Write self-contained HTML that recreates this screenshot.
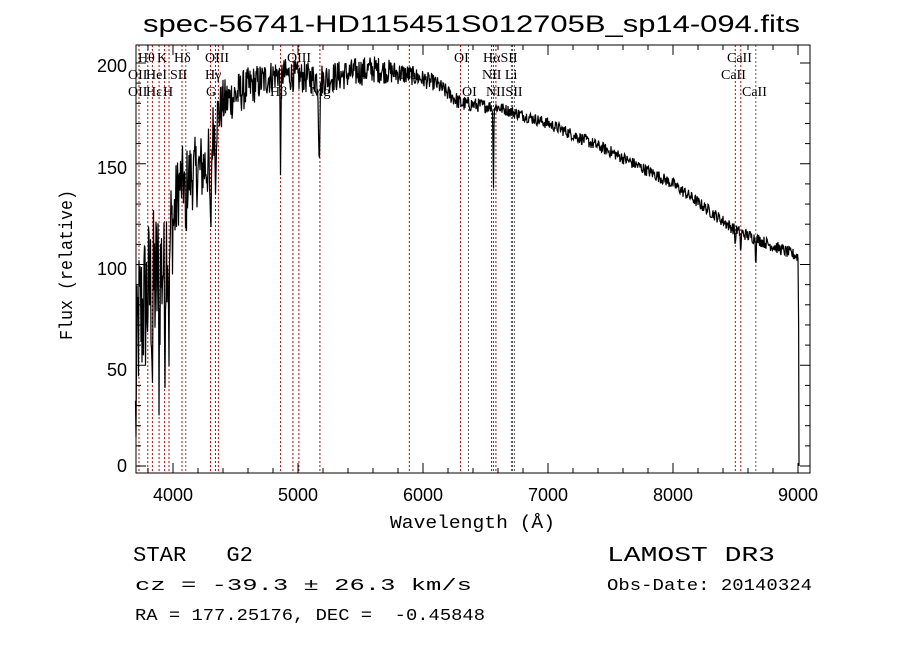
<!DOCTYPE html>
<html><head><meta charset="utf-8"><style>
html,body{margin:0;padding:0;background:#fff;}
svg{display:block;}
text{font-family:"Liberation Sans",sans-serif;fill:#000;white-space:pre;}
text.m{font-family:"Liberation Mono",monospace;}
.s text{font-family:"Liberation Serif",serif;font-size:14px;}
</style></head><body>
<svg id="c" width="900" height="649" viewBox="0 0 900 649" xmlns="http://www.w3.org/2000/svg" xml:space="preserve">
<rect width="900" height="649" fill="#fff"/>
<g id="lines"></g>
<polyline id="sp" fill="none" stroke="#000" stroke-width="1.2"/>
<rect x="136" y="45" width="674" height="428" fill="none" stroke="#000" stroke-width="1"/>
<g id="ticks" stroke="#000" stroke-width="1"></g>
<g font-size="18">
<text x="173" y="501" text-anchor="middle">4000</text>
<text x="298" y="501" text-anchor="middle">5000</text>
<text x="423" y="501" text-anchor="middle">6000</text>
<text x="548" y="501" text-anchor="middle">7000</text>
<text x="673" y="501" text-anchor="middle">8000</text>
<text x="798" y="501" text-anchor="middle">9000</text>
<text x="127" y="472" text-anchor="end">0</text>
<text x="127" y="376" text-anchor="end">50</text>
<text x="127" y="275" text-anchor="end">100</text>
<text x="127" y="174" text-anchor="end">150</text>
<text x="127" y="72" text-anchor="end">200</text>
</g>
<text class="m" x="390" y="528" font-size="18" textLength="165" lengthAdjust="spacingAndGlyphs">Wavelength (Å)</text>
<text class="m" x="72" y="340" font-size="18" transform="rotate(-90 72 340)" textLength="150" lengthAdjust="spacingAndGlyphs">Flux (relative)</text>
<text x="143" y="32" font-size="24" textLength="657" lengthAdjust="spacingAndGlyphs">spec-56741-HD115451S012705B_sp14-094.fits</text>
<text class="m" x="133" y="561" font-size="21" textLength="120" lengthAdjust="spacingAndGlyphs">STAR   G2</text>
<text class="m" x="607" y="561" font-size="21" textLength="168" lengthAdjust="spacingAndGlyphs">LAMOST DR3</text>
<text class="m" x="135" y="590" font-size="17" textLength="337" lengthAdjust="spacingAndGlyphs">cz = -39.3 ± 26.3 km/s</text>
<text class="m" x="607" y="590" font-size="17" textLength="205" lengthAdjust="spacingAndGlyphs">Obs-Date: 20140324</text>
<text class="m" x="135" y="620" font-size="17" textLength="350" lengthAdjust="spacingAndGlyphs">RA = 177.25176, DEC =  -0.45848</text>
<g class="s">
<text x="138" y="62">Hθ</text><text x="157" y="62">K</text><text x="174" y="62">Hδ</text><text x="205" y="62">OIII</text><text x="287" y="62">OIII</text>
<text x="128" y="79">OII</text><text x="146" y="79">HeI</text><text x="170" y="79">SII</text><text x="205" y="79">Hγ</text><text x="400" y="79">Na</text>
<text x="128" y="96">OII</text><text x="146" y="96">Hε</text><text x="163" y="96">H</text><text x="206" y="96">G</text><text x="270" y="96">Hβ</text><text x="311" y="96">Mg</text>
<text x="454" y="62">OI</text><text x="483" y="62">HαSII</text><text x="727" y="62">CaII</text>
<text x="482" y="79">NII Li</text><text x="721" y="79">CaII</text>
<text x="462" y="96">OI</text><text x="486" y="96">NIISII</text><text x="742" y="96">CaII</text>
</g>
</svg>
<script>
var X=function(w){return 135.5+(w-3700)*0.125},Y=function(f){return 466-f*2.015};
var L=[[3728,'r'],[3798,'r'],[3835,'r'],[3889,'r'],[3933,'r'],[3968,'r'],[4072,'r'],[4102,'k'],[4300,'r'],[4340,'r'],[4363,'r'],[4861,'r'],[4959,'r'],[5007,'r'],[5175,'r'],[5890,'r'],[6300,'r'],[6364,'k'],[6548,'r'],[6563,'r'],[6583,'r'],[6707,'k'],[6716,'k'],[6731,'k'],[8498,'r'],[8542,'r'],[8662,'k']];
var g=document.getElementById('lines'),h='';
L.forEach(function(l){var x=X(l[0]).toFixed(1);h+='<line x1="'+x+'" x2="'+x+'" y1="45" y2="473" stroke="'+(l[1]=='r'?'#c00':'#555')+'" stroke-width="1" stroke-dasharray="2,2"/>';});
g.innerHTML=h;
var t='';
for(var w=3800;w<=9000;w+=200){var x=X(w),len=(w%1000==0)?10:5;t+='<line x1="'+x+'" x2="'+x+'" y1="473" y2="'+(473-len)+'"/><line x1="'+x+'" x2="'+x+'" y1="45" y2="'+(45+len)+'"/>';}
for(var f=0;f<=200;f+=10){var y=Y(f),len=(f%50==0)?10:5;t+='<line x1="136" x2="'+(136+len)+'" y1="'+y+'" y2="'+y+'"/><line x1="810" x2="'+(810-len)+'" y1="'+y+'" y2="'+y+'"/>';}
document.getElementById('ticks').innerHTML=t;
var A=[[3700,20,40],[3720,70,40],[3800,85,40],[3900,95,40],[3960,115,30],[4000,120,25],[4050,140,18],[4280,150,18],[4330,170,15],[4400,180,12],[4600,188,10],[4850,195,8],[5000,193,8],[5200,192,8],[5600,197,7],[5900,194,5],[6100,190,4],[6300,180,4],[6600,178,3],[7000,170,3],[7500,156,3],[8000,140,3],[8500,117,3],[9000,104,3]];
function base(w){for(var i=0;i<A.length-1;i++){if(w<=A[i+1][0]){var a=A[i],b=A[i+1],r=(w-a[0])/(b[0]-a[0]);return [a[1]+r*(b[1]-a[1]),a[2]+r*(b[2]-a[2])];}}return [104,3];}
var D=[[3934,40,6],[3968,50,6],[4102,30,6],[4300,45,8],[4340,25,6],[4861,45,5],[5170,35,8],[6563,40,4],[8498,10,3],[8542,14,3],[8662,14,3],[3835,40,4],[3889,40,4]];
var s=12345;function rnd(){s=(s*1103515245+12345)%2147483648;return s/2147483648;}
var p=[];
for(var w=3700;w<=9000;w+=4){var b=base(w),f=b[0]+(rnd()-0.5)*2*b[1];
D.forEach(function(d){var q=(w-d[0])/d[2];f-=d[1]*Math.exp(-q*q);});
if(f>208)f=208;if(f<0)f=0;p.push(X(w).toFixed(1)+','+Y(f).toFixed(1));}
p.push(X(9005)+','+Y(70));p.push(X(9008)+','+Y(0));
document.getElementById('sp').setAttribute('points',p.join(' '));
</script>
</body></html>
